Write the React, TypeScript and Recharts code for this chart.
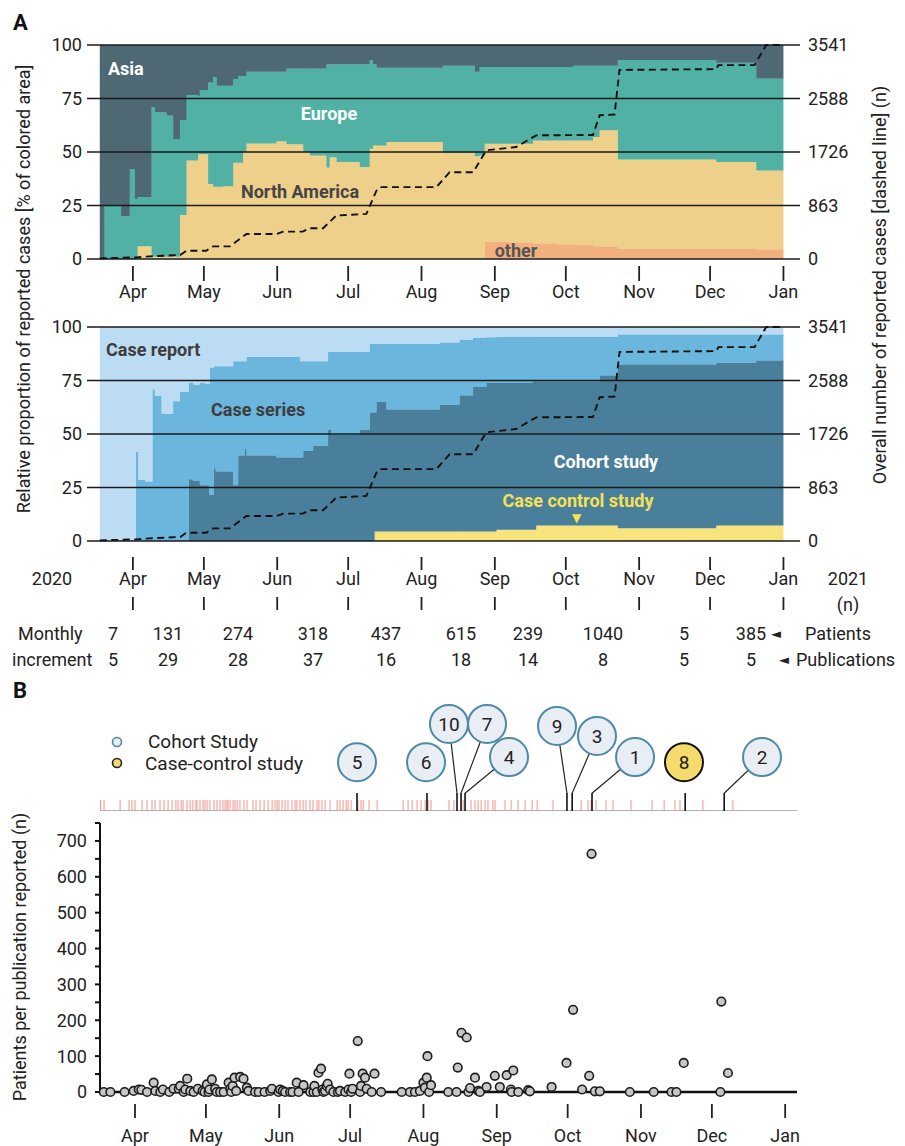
import React from "react";
import { ComposedChart, Area, Line, Scatter, XAxis, YAxis, ReferenceLine } from "recharts";

const FONT = "Roboto, 'Noto Sans', 'DejaVu Sans', sans-serif";
const INK = "#222";

// x values are days counted from 1 Jan 2020
const monthTicks = [91, 121, 152, 182, 213, 244, 274, 305, 335, 366];
const monthLabels = ["Apr", "May", "Jun", "Jul", "Aug", "Sep", "Oct", "Nov", "Dec", "Jan"];

// A, upper: share of reported cases by continent (%), steps at these days
const regionDays = [77, 79, 86, 89.7, 91.8, 93, 98.9, 100.3, 105.2, 108, 110.9, 113.7, 118.6, 119.3, 122.8, 124.9, 126.4, 129.1, 133.4, 135.5, 137.6, 139, 151.7, 155.9, 163, 165.8, 172.8, 174.2, 177.1, 186.9, 191.1, 192.5, 194, 198.2, 222, 235.5, 237.6, 239.7, 250, 260.1, 270, 277, 285.5, 288.3, 296, 337.6, 354.5, 366];
const otherShare = [0, 0, 0, 0, 0, 0, 0, 0, 0, 0, 0, 0, 0, 0, 0, 0, 0, 0, 0, 0, 0, 0, 0, 0, 0, 0, 0, 0, 0, 0, 0, 0, 0, 0, 0, 0, 0, 8.1, 7.7, 7.3, 6.9, 6.5, 6.0, 5.8, 4.7, 4.7, 4.4, 4.4];
const northAmericaShare = [0, 0, 0, 0, 0, 6, 1, 1, 1, 1, 20.6, 46, 49, 49, 35, 33.8, 33.8, 34, 45, 45, 50, 54, 55, 53.6, 50, 48.4, 42.8, 47.6, 45.3, 43, 51.5, 53, 53, 54.7, 49.7, 48, 48.4, 45.7, 46.1, 48.1, 48.5, 48.9, 51, 54.4, 41.8, 40.6, 37, 37];
const europeShare = [0, 25, 20, 42, 28, 23, 70, 67.6, 66, 55, 44.4, 30.6, 27, 30, 47.5, 51.2, 47.2, 47, 39, 40.5, 35.5, 33.5, 32.5, 35.4, 39, 40.6, 48.2, 43.4, 45.7, 48, 41.5, 38, 36.4, 34.7, 40.6, 39.5, 41.3, 35.9, 35.9, 34.3, 34.3, 34.9, 33.3, 30.1, 46.5, 46.4, 43, 43];
const asiaShare = [100, 75, 80, 58, 72, 71, 29, 31.4, 33, 44, 35, 23.4, 24, 21, 17.5, 15, 19, 19, 16, 14.5, 14.5, 12.5, 12.5, 11, 11, 11, 9, 9, 9, 9, 7, 9, 10.6, 10.6, 9.7, 12.5, 10.3, 10.3, 10.3, 10.3, 10.3, 9.7, 9.7, 9.7, 7, 8.3, 15.6, 15.6];

// A, lower: share of reported cases by study design (%)
const designDays = [77, 92.3, 93.3, 96.1, 99.3, 100.3, 103.1, 108, 110.9, 114.7, 116.5, 119.3, 121.4, 123.2, 123.5, 125.2, 126, 133.4, 135.5, 138.3, 139, 151.7, 161.6, 163, 167.2, 173.5, 174.9, 186.9, 191.1, 193.2, 194, 198.2, 220.7, 229.1, 234.8, 240.4, 244.7, 260.1, 261.5, 288.3, 296, 337.6, 354.5, 366];
const caseControlShare = [0, 0, 0, 0, 0, 0, 0, 0, 0, 0, 0, 0, 0, 0, 0, 0, 0, 0, 0, 0, 0, 0, 0, 0, 0, 0, 0, 0, 0, 4.4, 4.4, 4.4, 4.4, 4.4, 4.4, 4.4, 5.2, 5.2, 7.2, 7.2, 5.9, 7.2, 7.2, 7.2];
const cohortShare = [0, 0, 0, 0, 0, 0, 0, 0, 0, 28.9, 28, 26, 26, 21.6, 21.6, 34, 32.5, 26, 40, 43, 40, 39, 39, 42, 44.5, 52, 49.7, 52, 60, 55.6, 60.6, 57, 59.3, 63.6, 67.6, 69.6, 68.8, 69.5, 67.5, 70.1, 76.6, 76.1, 77.2, 77.2];
const caseSeriesShare = [0, 41.6, 28.5, 27.8, 70.8, 67.7, 59.4, 65.3, 69.7, 45.1, 45, 48, 47.5, 51.9, 59.4, 47.7, 49.2, 58, 44, 41, 46, 47, 45, 42, 39.5, 36.4, 38.7, 36.4, 32, 32, 27, 30.6, 29, 26, 23, 21.2, 21.4, 20.8, 20.8, 18.2, 14, 13.2, 12.1, 12.1];
const caseReportShare = [100, 58.4, 71.5, 72.2, 29.2, 32.3, 40.6, 34.7, 30.3, 26, 27, 26, 26.5, 26.5, 19, 18.3, 18.3, 16, 16, 16, 14, 14, 16, 16, 16, 11.6, 11.6, 11.6, 8, 8, 8, 8, 7.3, 6, 5, 4.8, 4.6, 4.5, 4.5, 4.5, 3.5, 3.5, 3.5, 3.5];

// overall number of reported cases (dashed line)
const cumDays = [77, 92.5, 98, 111, 113.7, 122, 124.9, 132, 139, 151.7, 154.5, 162.8, 165.8, 171.4, 177, 189.7, 194, 195.4, 219.3, 224.9, 234.8, 240.4, 253, 261.5, 285.5, 288.3, 294.6, 296.7, 337.6, 338.5, 353.8, 358.7, 366];
const cumCases = [10, 26, 43, 65, 134, 134, 204, 204, 404, 404, 442, 442, 496, 496, 701, 728, 1106, 1159, 1159, 1400, 1400, 1753, 1806, 1995, 2000, 2319, 2330, 3050, 3063, 3128, 3128, 3452, 3452];

const pctTicks = [0, 25, 50, 75, 100];
const caseTicks = [0, 863, 1726, 2589, 3452];
const caseTickLabels = ["0", "863", "1726", "2588", "3541"];

// monthly increment table (Mar .. Dec)
const monthlyPatients = [7, 131, 274, 318, 437, 615, 239, 1040, 5, 385];
const monthlyPublications = [5, 29, 28, 37, 16, 18, 14, 8, 5, 5];

// B: publication dates (red ticks)
const publicationDays = [76.4, 77.9, 84.7, 88.5, 89.7, 91.0, 94.0, 96.1, 98.2, 99.5, 101.6, 103.3, 105.0, 106.7, 108.3, 109.2, 110.5, 111.3, 113.0, 114.3, 115.5, 116.8, 117.2, 118.5, 119.8, 120.6, 121.5, 122.7, 124.4, 125.7, 127.0, 128.2, 129.1, 129.9, 130.3, 131.2, 132.5, 133.3, 134.2, 135.4, 137.1, 138.4, 140.9, 142.2, 143.9, 145.6, 147.3, 149.0, 150.2, 151.1, 151.9, 153.2, 154.5, 155.7, 157.4, 158.7, 159.5, 160.8, 162.1, 163.3, 165.0, 166.3, 168.0, 168.8, 170.1, 171.4, 173.5, 176.5, 177.7, 179.0, 180.3, 181.1, 182.4, 185.3, 186.6, 187.5, 190.0, 193.4, 204.4, 206.5, 208.2, 210.3, 212.0, 213.7, 215.0, 216.2, 223.8, 225.9, 229.8, 233.1, 234.8, 236.1, 237.4, 239.1, 240.3, 242.4, 243.3, 247.5, 250.1, 253.0, 256.0, 259.0, 261.1, 267.8, 279.7, 282.6, 283.9, 286.0, 290.2, 293.2, 300.8, 309.7, 314.8, 319.4, 321.5, 331.2, 343.9];

// B: numbered studies
const studyLabels = ["5", "6", "10", "7", "4", "9", "3", "1", "8", "2"];
const studyDays = [184.9, 214.5, 227.2, 228.9, 230.6, 273.7, 275.9, 284.3, 323.7, 340.2];
const studyDesign = ["cohort", "cohort", "cohort", "cohort", "cohort", "cohort", "cohort", "cohort", "caseControl", "cohort"];
// where each bubble sits (day, height on the 0-100 strip) and whether it needs a leader line
const bubbleDays = [184.9, 214.1, 223.8, 239.9, 249.2, 269.5, 286.4, 302.5, 323.2, 356.2];
const bubbleLevels = [44, 44, 78.4, 78.4, 48.6, 76.6, 67.6, 48.6, 44, 48.6];
const bubbleLeader = [false, false, true, true, true, true, true, true, false, true];

// B: patients per publication
const reportDays = [77.8, 80.6, 86.6, 90.4, 92.6, 93.7, 96.1, 98.9, 99.6, 101.7, 102.8, 105.5, 107.3, 109.5, 110.1, 111.6, 112.3, 113.1, 114.4, 115.8, 117.6, 119.6, 120.4, 121.4, 122.1, 122.5, 123.5, 124.9, 125.6, 127, 128.5, 130.6, 131.3, 131.7, 132.3, 133.1, 133.8, 135.5, 136.9, 138.3, 139, 141.8, 143.3, 145.8, 148.2, 148.9, 151.7, 152.4, 153.5, 154.5, 156.6, 157.6, 159.4, 160.2, 162.3, 165.1, 166.5, 166.9, 167.9, 168.6, 169.7, 170.3, 170.7, 171.4, 172.1, 172.5, 173.5, 174.9, 176.8, 177.7, 179.9, 181.3, 181.7, 182.4, 183, 185.2, 186.2, 186.6, 187.3, 188.3, 189, 191.1, 192.3, 195.1, 203.8, 207.3, 209.4, 211.5, 213, 213.6, 214.4, 214.7, 215.4, 216.2, 223.5, 227, 227.5, 229.1, 231.3, 232, 232.7, 234.8, 236.2, 236.9, 239.7, 243.2, 245.3, 248.2, 250, 250.3, 251, 253.1, 257.3, 258, 267.2, 273.5, 276.3, 280.1, 283.1, 284.1, 285.5, 287.6, 300.3, 310.4, 317.9, 320, 323.1, 338.6, 339, 341.8];
const reportPatients = [0, 0, 0, 3, 7, 6, 0, 26, 3, 0, 7, 0, 9, 9, 17, 0, 7, 37, 3, 0, 9, 3, 0, 21, 0, 7, 35, 9, 0, 0, 0, 26, 9, 0, 17, 40, 3, 42, 37, 12, 3, 0, 0, 0, 3, 9, 0, 7, 3, 0, 0, 0, 26, 0, 19, 0, 0, 17, 0, 54, 65, 7, 0, 3, 17, 23, 7, 0, 0, 3, 0, 7, 51, 0, 9, 142, 0, 17, 51, 40, 9, 0, 51, 0, 0, 0, 0, 3, 26, 12, 40, 100, 0, 19, 0, 0, 68, 165, 152, 0, 11, 40, 3, 0, 14, 45, 14, 47, 7, 0, 60, 0, 5, 2, 14, 81, 229, 7, 45, 664, 2, 2, 0, 0, 0, 0, 81, 0, 252, 53];
const patientTicks = [0, 50, 100, 150, 200, 250, 300, 350, 400, 450, 500, 550, 600, 650, 700, 750];

const regionRows = regionDays.map((day, i) => ({
  day,
  other: otherShare[i],
  northAmerica: northAmericaShare[i],
  europe: europeShare[i],
  asia: asiaShare[i],
}));
const designRows = designDays.map((day, i) => ({
  day,
  caseControl: caseControlShare[i],
  cohort: cohortShare[i],
  caseSeries: caseSeriesShare[i],
  caseReport: caseReportShare[i],
}));
const cumRows = cumDays.map((day, i) => ({ day, cases: cumCases[i] }));
const reportRows = reportDays.map((day, i) => ({ day, patients: reportPatients[i] }));
const pubRows = publicationDays.map((day) => ({ day, lvl: 0 }));
const studyTickRows = studyDays.map((day) => ({ day, lvl: 0 }));
const bubbleRows = studyLabels.map((label, i) => ({
  day: bubbleDays[i],
  lvl: bubbleLevels[i],
  label,
  design: studyDesign[i],
}));

const monthName = (v: number) => monthLabels[monthTicks.indexOf(v)];

function MonthTickTop({ x, y, payload }: any) {
  return (
    <g>
      <line x1={x} x2={x} y1={y + 7} y2={y + 22} stroke={INK} strokeWidth={1.8} />
      <text x={x} y={y + 39} textAnchor="middle" fontSize={18} fill={INK}>
        {monthName(payload.value)}
      </text>
    </g>
  );
}

function MonthTickMid({ x, y, payload }: any) {
  return (
    <g>
      <line x1={x} x2={x} y1={y + 16} y2={y + 29} stroke={INK} strokeWidth={1.8} />
      <text x={x} y={y + 44} textAnchor="middle" fontSize={18} fill={INK}>
        {monthName(payload.value)}
      </text>
      <line x1={x} x2={x} y1={y + 56} y2={y + 69} stroke={INK} strokeWidth={1.8} />
    </g>
  );
}

function MonthTickBottom({ x, y, payload }: any) {
  return (
    <g>
      <line x1={x} x2={x} y1={y + 12} y2={y + 26} stroke={INK} strokeWidth={1.8} />
      <text x={x} y={y + 50} textAnchor="middle" fontSize={18} fill={INK}>
        {monthName(payload.value)}
      </text>
    </g>
  );
}

function PatientTick({ x, y, payload }: any) {
  if (payload.value % 100 !== 0) return <g />;
  return (
    <text x={x} y={y} dy="0.36em" textAnchor="end" fontSize={18} fill={INK}>
      {payload.value}
    </text>
  );
}

const PubTick = (p: any) => (
  <line x1={p.cx} x2={p.cx} y1={p.cy} y2={p.cy - 11} stroke="#f2958b" strokeWidth={1} />
);
const StudyTick = (p: any) => (
  <line x1={p.cx} x2={p.cx} y1={p.cy} y2={p.cy - 18} stroke="#111" strokeWidth={1.6} />
);
const Bubble = (p: any) => {
  const cc = p.payload.design === "caseControl";
  return (
    <g>
      <circle cx={p.cx} cy={p.cy} r={19} fill={cc ? "#f5da6c" : "#e9eef4"} stroke={cc ? "#111" : "#4d89a8"} strokeWidth={2} />
      <text x={p.cx} y={p.cy} dy="0.36em" textAnchor="middle" fontSize={19} fill={INK}>
        {p.payload.label}
      </text>
    </g>
  );
};
const ReportDot = (p: any) => (
  <circle cx={p.cx} cy={p.cy} r={4.3} fill="#c6c6c6" stroke="#1c1c1c" strokeWidth={1.6} />
);

const tickStyle = { fill: INK, fontSize: 18 };

function ShareChart({ rows, keys, colors, tick, height, bottomAxis }: any) {
  return (
    <ComposedChart width={905} height={height} data={rows} margin={{ top: 45, right: 35, bottom: bottomAxis.margin, left: 27 }}>
      <XAxis
        dataKey="day"
        type="number"
        domain={[71.6, 373]}
        ticks={monthTicks}
        interval={0}
        tick={tick}
        tickLine={false}
        axisLine={false}
        tickSize={0}
        tickMargin={0}
        height={bottomAxis.height}
      />
      <YAxis
        yAxisId="pct"
        domain={[0, 100]}
        ticks={pctTicks}
        interval={0}
        allowDataOverflow
        width={60}
        tick={tickStyle}
        tickLine={false}
        axisLine={false}
        tickSize={0}
        tickMargin={5}
      />
      <YAxis
        yAxisId="n"
        orientation="right"
        domain={[0, 3452]}
        ticks={caseTicks}
        interval={0}
        width={70}
        tick={tickStyle}
        tickLine={false}
        axisLine={false}
        tickSize={0}
        tickMargin={8}
        tickFormatter={(v: number) => caseTickLabels[caseTicks.indexOf(v)]}
      />
      {keys.map((k: string, i: number) => (
        <Area
          key={k}
          yAxisId="pct"
          type="stepAfter"
          dataKey={k}
          stackId="s"
          fill={colors[i]}
          fillOpacity={1}
          stroke={colors[i]}
          strokeWidth={0.6}
          isAnimationActive={false}
        />
      ))}
      {pctTicks.map((v) => (
        <ReferenceLine key={v} yAxisId="pct" y={v} stroke="#1a1a1a" strokeWidth={1.3} />
      ))}
      <Line
        yAxisId="n"
        data={cumRows}
        dataKey="cases"
        type="linear"
        stroke="#111"
        strokeWidth={1.9}
        strokeDasharray="7 4.5"
        dot={false}
        isAnimationActive={false}
      />
    </ComposedChart>
  );
}

const colX = [113, 168, 238, 313, 386, 461, 528, 603, 684, 751];

export default function App() {
  return (
    <div style={{ position: "absolute", left: 0, top: 0, width: 905, height: 1146, background: "#fff", fontFamily: FONT }}>
      <div style={{ position: "absolute", left: 0, top: 0 }}>
        <ShareChart
          rows={regionRows}
          keys={["other", "northAmerica", "europe", "asia"]}
          colors={["#f1b07e", "#efd08b", "#52b1a5", "#4e6973"]}
          tick={<MonthTickTop />}
          height={305}
          bottomAxis={{ height: 40, margin: 6 }}
        />
      </div>
      <div style={{ position: "absolute", left: 0, top: 282 }}>
        <ShareChart
          rows={designRows}
          keys={["caseControl", "cohort", "caseSeries", "caseReport"]}
          colors={["#f8e47c", "#4a7f9b", "#6bb6dd", "#bcdcf3"]}
          tick={<MonthTickMid />}
          height={339}
          bottomAxis={{ height: 80, margin: 0 }}
        />
      </div>

      <div style={{ position: "absolute", left: 0, top: 690 }}>
        <ComposedChart width={905} height={121} margin={{ top: 10, right: 108, bottom: 0, left: 100 }}>
          <XAxis dataKey="day" type="number" domain={[76.2, 371]} hide />
          <YAxis dataKey="lvl" type="number" domain={[0, 100]} hide />
          <ReferenceLine y={0} stroke="#666" strokeWidth={1.2} />
          <Scatter data={pubRows} shape={PubTick} isAnimationActive={false} />
          <Scatter data={studyTickRows} shape={StudyTick} isAnimationActive={false} />
          {studyLabels.map((label, i) =>
            bubbleLeader[i] ? (
              <Line
                key={label}
                data={[
                  { day: studyDays[i], lvl: 16 },
                  { day: bubbleDays[i], lvl: bubbleLevels[i] },
                ]}
                dataKey="lvl"
                type="linear"
                stroke="#222"
                strokeWidth={1.2}
                dot={false}
                isAnimationActive={false}
              />
            ) : null
          )}
          <Scatter data={bubbleRows} shape={Bubble} isAnimationActive={false} />
        </ComposedChart>
      </div>

      <div style={{ position: "absolute", left: 0, top: 800 }}>
        <ComposedChart width={905} height={346} margin={{ top: 23, right: 108, bottom: 0, left: 40 }}>
          <XAxis
            dataKey="day"
            type="number"
            domain={[76.2, 371]}
            ticks={monthTicks}
            interval={0}
            tick={<MonthTickBottom />}
            tickLine={false}
            tickSize={0}
            tickMargin={0}
            axisLine={{ stroke: "#111", strokeWidth: 2.5 }}
            height={54}
          />
          <YAxis
            dataKey="patients"
            type="number"
            domain={[0, 750]}
            ticks={patientTicks}
            interval={0}
            width={60}
            axisLine={{ stroke: "#111", strokeWidth: 2 }}
            tickLine={{ stroke: "#111", strokeWidth: 2 }}
            tickSize={5}
            tickMargin={8}
            tick={<PatientTick />}
          />
          <Scatter data={reportRows} shape={ReportDot} isAnimationActive={false} />
        </ComposedChart>
      </div>

      <svg width={905} height={1146} style={{ position: "absolute", left: 0, top: 0, pointerEvents: "none" }} fontFamily={FONT}>
        <text x={13} y={30} fontSize={22} fontWeight={700} fill="#111">A</text>
        <text x={13} y={698} fontSize={22} fontWeight={700} fill="#111">B</text>

        <text transform="translate(24,289) rotate(-90)" textAnchor="middle" dy="0.35em" fontSize={18} fill={INK}>
          Relative proportion of reported cases [% of colored area]
        </text>
        <text transform="translate(880,285) rotate(-90)" textAnchor="middle" dy="0.35em" fontSize={18} fill={INK}>
          Overall number of reported cases [dashed line] (n)
        </text>
        <text transform="translate(20,957) rotate(-90)" textAnchor="middle" dy="0.35em" fontSize={18} fill={INK}>
          Patients per publication reported (n)
        </text>

        <g fontSize={18} fontWeight={700}>
          <text x={108} y={75} fill="#fff">Asia</text>
          <text x={329} y={120} fill="#fff" textAnchor="middle">Europe</text>
          <text x={300} y={198} fill="#444" textAnchor="middle">North America</text>
          <text x={516} y={257} fill="#555" textAnchor="middle">other</text>
          <text x={106} y={356} fill="#3d3d3d">Case report</text>
          <text x={211} y={416} fill="#3d3d3d">Case series</text>
          <text x={606} y={468} fill="#fff" textAnchor="middle">Cohort study</text>
          <text x={578} y={507} fill="#f6e154" textAnchor="middle">Case control study</text>
        </g>
        <text x={576.5} y={522} fill="#f6e154" textAnchor="middle" fontSize={12}>▼</text>

        <g fontSize={18} fill={INK}>
          <text x={52} y={585} textAnchor="middle">2020</text>
          <text x={848} y={585} textAnchor="middle">2021</text>
          <text x={848} y={611} textAnchor="middle">(n)</text>

          <text x={18} y={640}>Monthly</text>
          <text x={12} y={666}>increment</text>
          {monthlyPatients.map((v, i) => (
            <text key={"p" + i} x={colX[i]} y={640} textAnchor="middle">{v}</text>
          ))}
          {monthlyPublications.map((v, i) => (
            <text key={"u" + i} x={colX[i]} y={666} textAnchor="middle">{v}</text>
          ))}
          <text x={771} y={638} fontSize={13}>◄</text>
          <text x={805} y={640}>Patients</text>
          <text x={779} y={664} fontSize={13}>◄</text>
          <text x={796} y={666}>Publications</text>
        </g>

        <circle cx={117} cy={742} r={4.5} fill="#e9eef4" stroke="#4d89a8" strokeWidth={1.6} />
        <text x={148} y={748} fontSize={19} fill={INK}>Cohort Study</text>
        <circle cx={117} cy={763} r={4.5} fill="#f5da6c" stroke="#222" strokeWidth={1.6} />
        <text x={145} y={770} fontSize={19} fill={INK}>Case-control study</text>
      </svg>
    </div>
  );
}
